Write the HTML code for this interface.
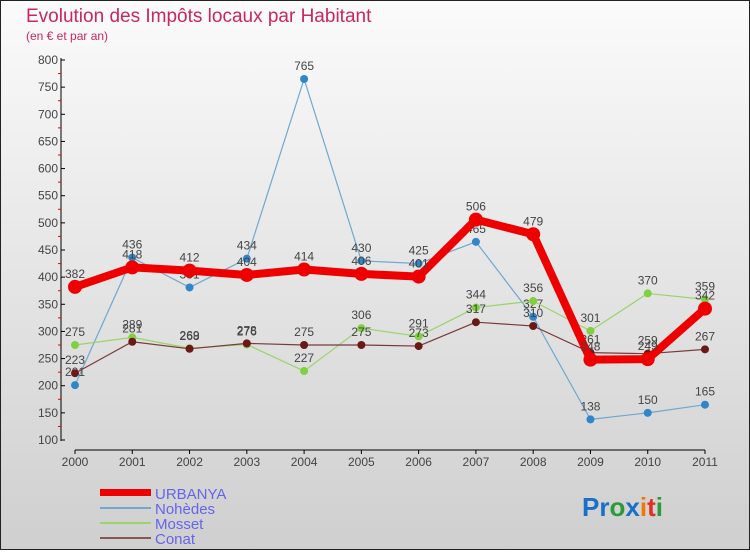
<!DOCTYPE html>
<html><head><meta charset="utf-8"><style>
body{margin:0;width:750px;height:550px;overflow:hidden;font-family:"Liberation Sans",sans-serif}
</style></head><body>
<svg id="chart" width="750" height="550" xmlns="http://www.w3.org/2000/svg">
<defs><linearGradient id="bg" x1="0" y1="0" x2="0" y2="1"><stop offset="0" stop-color="#fbfbfb"/><stop offset="1" stop-color="#cfcfcf"/></linearGradient></defs>
<rect x="0.5" y="0.5" width="749" height="549" fill="url(#bg)" stroke="#222"/>
<text x="26" y="22" font-size="19" fill="#c8285a">Evolution des Impôts locaux par Habitant</text>
<text x="26" y="40" font-size="12" fill="#c8285a">(en € et par an)</text>
<g id="axes"></g><g id="series"></g>
<g>
<rect x="100" y="489" width="51" height="7" fill="#e00"/>
<text x="155" y="499" font-size="15" fill="#6464ee">URBANYA</text>
<line x1="100" y1="508" x2="151" y2="508" stroke="#6fa8d0" stroke-width="2"/>
<text x="155" y="514" font-size="15" fill="#6464ee">Nohèdes</text>
<line x1="100" y1="523" x2="151" y2="523" stroke="#9ad46a" stroke-width="2"/>
<text x="155" y="529" font-size="15" fill="#6464ee">Mosset</text>
<line x1="100" y1="538" x2="151" y2="538" stroke="#8a5555" stroke-width="2"/>
<text x="155" y="544" font-size="15" fill="#6464ee">Conat</text>
</g>
<text x="582" y="516" font-size="26" font-weight="bold"><tspan fill="#1a6fc8">Pr</tspan><tspan fill="#2a9a3a">o</tspan><tspan fill="#1a6fc8">x</tspan><tspan fill="#f07800">i</tspan><tspan fill="#e03020">t</tspan><tspan fill="#2a9a3a">i</tspan></text>
</svg>
<script>
const years=["2000","2001","2002","2003","2004","2005","2006","2007","2008","2009","2010","2011"];
const yTicks=[100,150,200,250,300,350,400,450,500,550,600,650,700,750,800];
const urbanya=[382,418,412,404,414,406,401,506,479,248,249,342];
const nohedes=[201,436,381,434,765,430,425,465,327,138,150,165];
const mosset=[275,289,269,276,227,306,291,344,356,301,370,359];
const conat=[223,281,268,278,275,275,273,317,310,261,259,267];
const NS="http://www.w3.org/2000/svg";
const X=i=>75+i*(630/11);
const Y=v=>440-(v-100)*(380/700);
function mk(tag,attrs,parent,text){const e=document.createElementNS(NS,tag);for(const k in attrs)e.setAttribute(k,attrs[k]);if(text!==undefined)e.textContent=text;parent.appendChild(e);return e;}
const ax=document.getElementById('axes');
let e=mk('line',{x1:61,y1:58,x2:61,y2:441,stroke:'#000'},ax);


e=mk('line',{x1:75,y1:450,x2:705,y2:450,stroke:'#000'},ax);


yTicks.forEach(t=>{
 mk('line',{x1:61,y1:Y(t),x2:65,y2:Y(t),stroke:'#000'},ax);
 if(t<800)mk('line',{x1:58,y1:Y(t+25),x2:61,y2:Y(t+25),stroke:'#e00'},ax);
 const l=mk('text',{x:58,y:Y(t)+4,'font-size':12,'text-anchor':'end',fill:'#444'},ax,String(t));
 
 
});
years.forEach((y,i)=>{
 mk('line',{x1:X(i),y1:450,x2:X(i),y2:454,stroke:'#000'},ax);
 const l=mk('text',{x:X(i),y:466,'font-size':12,'text-anchor':'middle',fill:'#444'},ax,y);
 
 
});
const sg=document.getElementById('series');
function series(data,name,color,w,r,dot){
 const g=mk('g',{},sg);
 
 
 const p=mk('polyline',{points:data.map((v,i)=>X(i)+','+Y(v)).join(' '),fill:'none',stroke:color,'stroke-width':w,'stroke-linejoin':'round'},g);
 
 
 data.forEach((v,i)=>{
  const c=mk('circle',{cx:X(i),cy:Y(v),r:r,fill:dot},g);
  
  
  const t=mk('text',{x:X(i),y:Y(v)-9,'font-size':12,'text-anchor':'middle',fill:'#444'},g,String(v));
  
  
 });
}
series(nohedes,'nohedes','#6fa8d0',1.2,4,'#2f86c8');
series(mosset,'mosset','#9ad46a',1.2,4,'#80d040');
series(conat,'conat','#7a3a3a',1.2,4,'#6a1818');
series(urbanya,'urbanya','#ee0000',8,7,'#ee0000');
</script>
</body></html>
